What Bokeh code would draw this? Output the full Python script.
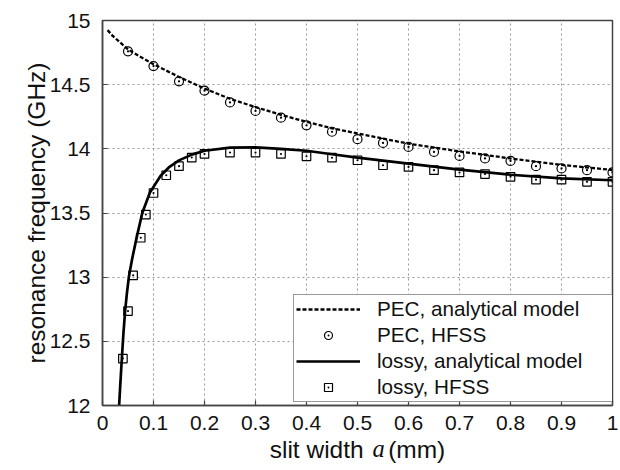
from bokeh.plotting import figure
from bokeh.models import Range1d, FixedTicker, Label
from bokeh.embed import file_html
from bokeh.resources import INLINE

# ---------------- data ----------------
pec_model_a = [0.01, 0.02, 0.03, 0.05, 0.075, 0.1, 0.15, 0.2, 0.25, 0.3, 0.35, 0.4,
               0.45, 0.5, 0.6, 0.7, 0.8, 0.9, 1.0]
pec_model_f = [14.925, 14.88, 14.845, 14.775, 14.715, 14.66, 14.56, 14.47, 14.39, 14.325,
               14.265, 14.21, 14.16, 14.12, 14.04, 13.98, 13.925, 13.875, 13.835]

pec_hfss_a = [0.05, 0.1, 0.15, 0.2, 0.25, 0.3, 0.35, 0.4, 0.45, 0.5, 0.55, 0.6, 0.65,
              0.7, 0.75, 0.8, 0.85, 0.9, 0.95, 1.0]
pec_hfss_f = [14.76, 14.645, 14.526, 14.453, 14.362, 14.295, 14.243, 14.183, 14.133,
              14.075, 14.046, 14.015, 13.976, 13.945, 13.925, 13.906, 13.865, 13.847,
              13.834, 13.816]

lossy_model_a = [0.0326, 0.035, 0.038, 0.041, 0.0444, 0.048, 0.052, 0.058, 0.067, 0.078,
                 0.093, 0.114, 0.13, 0.15, 0.175, 0.2, 0.25, 0.3, 0.35, 0.4, 0.45, 0.5,
                 0.6, 0.7, 0.8, 0.9, 1.0]
lossy_model_f = [12.0, 12.17, 12.37, 12.56, 12.74, 12.88, 13.01, 13.14, 13.31, 13.5,
                 13.66, 13.79, 13.855, 13.91, 13.955, 13.985, 14.01, 14.012, 14.0, 13.985,
                 13.958, 13.932, 13.885, 13.838, 13.798, 13.77, 13.755]

lossy_hfss_a = [0.04, 0.05, 0.06, 0.075, 0.085, 0.1, 0.125, 0.15, 0.175, 0.2, 0.25, 0.3,
                0.35, 0.4, 0.45, 0.5, 0.55, 0.6, 0.65, 0.7, 0.75, 0.8, 0.85, 0.9, 0.95, 1.0]
lossy_hfss_f = [12.366, 12.736, 13.014, 13.307, 13.488, 13.656, 13.794, 13.865, 13.932,
                13.96, 13.971, 13.971, 13.96, 13.942, 13.931, 13.911, 13.872, 13.859,
                13.834, 13.816, 13.803, 13.782, 13.76, 13.76, 13.743, 13.743]

x_ticks = [0, 0.1, 0.2, 0.3, 0.4, 0.5, 0.6, 0.7, 0.8, 0.9, 1.0]
x_tick_labels = ["0", "0.1", "0.2", "0.3", "0.4", "0.5", "0.6", "0.7", "0.8", "0.9", "1"]
y_ticks = [12, 12.5, 13, 13.5, 14, 14.5, 15]
y_tick_labels = ["12", "12.5", "13", "13.5", "14", "14.5", "15"]

legend_labels = ["PEC, analytical model", "PEC, HFSS", "lossy, analytical model", "lossy, HFSS"]
x_title_left, x_title_var, x_title_right = "slit width", "a", "(mm)"
y_title = "resonance frequency (GHz)"

# ---------------- figure ----------------
FONT = "Liberation Sans"
INK = "#111111"
FRAME = "#444444"

p = figure(width=620, height=470, output_backend="svg", toolbar_location=None,
           x_range=Range1d(0, 1), y_range=Range1d(12, 15),
           min_border_left=102, min_border_right=8, min_border_top=20, min_border_bottom=65)

p.background_fill_color = "white"
p.border_fill_color = "white"
p.outline_line_color = FRAME
p.outline_line_width = 1.5
p.outline_line_alpha = 1.0

p.xaxis.ticker = FixedTicker(ticks=x_ticks)
p.yaxis.ticker = FixedTicker(ticks=y_ticks)
p.xaxis.major_label_overrides = {t: l for t, l in zip(x_ticks, x_tick_labels)}
p.yaxis.major_label_overrides = {t: l for t, l in zip(y_ticks, y_tick_labels)}

for ax in (p.xaxis, p.yaxis):
    ax.major_label_text_font = FONT
    ax.major_label_text_font_size = "21px"
    ax.major_label_text_color = INK
    ax.major_tick_in = 5
    ax.major_tick_out = 0
    ax.major_tick_line_color = FRAME
    ax.major_tick_line_width = 1.2
    ax.minor_tick_line_color = None
    ax.axis_line_color = FRAME
    ax.axis_line_width = 1.5
    ax.axis_label_text_font = FONT
    ax.axis_label_text_font_size = "24.5px"
    ax.axis_label_text_font_style = "normal"
    ax.axis_label_text_color = INK
p.xaxis.major_label_standoff = 10
p.yaxis.major_label_standoff = 12

# axis titles
p.yaxis.axis_label = y_title
p.yaxis.axis_label_standoff = -3
p.xaxis.axis_label = x_title_left + "\u2002\u2002" + x_title_right
p.xaxis.axis_label_standoff = 3

p.grid.grid_line_color = "#9a9a9a"
p.grid.grid_line_dash = "2 3"
p.grid.grid_line_width = 1.1

# ---------------- series ----------------
p.line(pec_model_a, pec_model_f, line_color="black", line_width=2.3, line_dash="4 2",
       legend_label=legend_labels[0])
p.scatter(pec_hfss_a, pec_hfss_f, marker="circle_dot", size=9, line_color="black",
          line_width=1.2, fill_color=None, legend_label=legend_labels[1])
p.line(lossy_model_a, lossy_model_f, line_color="black", line_width=2.7,
       legend_label=legend_labels[2])
p.scatter(lossy_hfss_a, lossy_hfss_f, marker="square_dot", size=8.5, line_color="black",
          line_width=1.2, fill_color=None, legend_label=legend_labels[3])

# ---------------- legend ----------------
lg = p.legend[0]
lg.location = (191, 3)
lg.label_text_font = FONT
lg.label_text_font_size = "20.7px"
lg.label_text_color = INK
lg.padding = 2
lg.spacing = 2
lg.margin = 0
lg.glyph_width = 64
lg.glyph_height = 20
lg.label_height = 20
lg.label_standoff = 17
lg.label_width = 234
lg.border_line_color = "#333333"
lg.border_line_width = 1.5
lg.background_fill_color = "white"
lg.background_fill_alpha = 1.0

# italic variable of the x-axis title (kept in a side panel so it is not clipped)
p.add_layout(Label(x=0.5, y=12, x_offset=21, y_offset=-43, text=x_title_var,
                   text_align="center", text_baseline="middle",
                   text_font="Liberation Serif", text_font_style="italic",
                   text_font_size="24.5px", text_color=INK), "left")

open("out.html", "w").write(file_html(p, INLINE))
